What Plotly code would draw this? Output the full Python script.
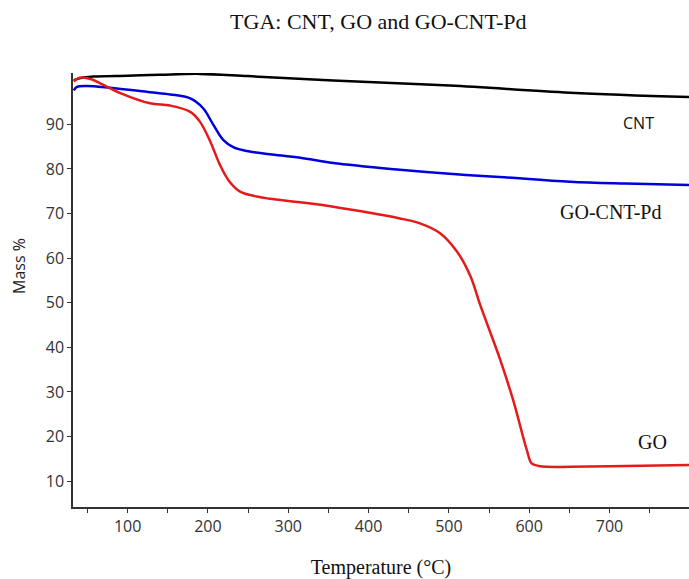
import plotly.graph_objects as go

# Temperature (°C) and mass (%)
cnt_temp = [33, 40, 57, 100, 140, 190, 250, 356, 501, 651, 799]
cnt_mass = [99.9, 100.3, 100.7, 100.9, 101.1, 101.3, 100.8, 99.8, 98.7, 97.1, 96.1]

gocntpd_temp = [33, 37, 49, 78, 128, 153, 178, 194, 207, 219, 232, 252, 277, 315, 356, 439, 501, 563, 651, 720, 799]
gocntpd_mass = [97.6, 98.4, 98.6, 98.2, 97.2, 96.7, 95.8, 93.6, 89.8, 86.5, 84.8, 83.9, 83.3, 82.5, 81.3, 79.8, 78.9, 78.2, 77.1, 76.7, 76.4]

go_temp = [33, 38, 43, 55, 66, 91, 128, 153, 178, 190, 203, 215, 227, 240, 261, 277, 315, 356, 439, 464, 489, 510, 527, 539, 564, 580, 597, 603, 612, 622, 651, 720, 799]
go_mass = [99.6, 100.3, 100.5, 100.1, 99.2, 97.0, 94.7, 94.2, 92.8, 90.6, 86.1, 80.9, 77.1, 74.9, 73.8, 73.3, 72.5, 71.5, 68.9, 67.8, 65.6, 61.5, 55.9, 49.5, 37.2, 28.2, 17.0, 14.0, 13.4, 13.2, 13.2, 13.4, 13.6]

x_tickvals = [50, 100, 150, 200, 250, 300, 350, 400, 450, 500, 550, 600, 650, 700, 750]
x_ticktext = ["", "100", "", "200", "", "300", "", "400", "", "500", "", "600", "", "700", ""]
y_tickvals = [10, 20, 30, 40, 50, 60, 70, 80, 90]

series_names = ["CNT", "GO-CNT-Pd", "GO"]
series_colors = ["#000000", "#0000dd", "#e51a1a"]

# label positions (data coords)
label_x = [736, 702, 754]
label_y = [90.3, 70.3, 18.7]
label_fonts = [dict(family="Open Sans", size=16, color="#111111"),
               dict(family="Liberation Serif", size=20, color="#111111"),
               dict(family="Liberation Serif", size=20, color="#111111")]

fig = go.Figure()
for name, xs, ys, col in zip(series_names,
                              [cnt_temp, gocntpd_temp, go_temp],
                              [cnt_mass, gocntpd_mass, go_mass],
                              series_colors):
    fig.add_trace(go.Scatter(x=xs, y=ys, mode="lines", name=name,
                             line=dict(color=col, width=2.5, shape="spline", smoothing=1.0)))

fig.update_layout(
    width=689, height=579,
    margin=dict(l=73, r=0, t=73, b=72),
    paper_bgcolor="white", plot_bgcolor="white",
    showlegend=False,
    title=dict(text="TGA: CNT, GO and GO-CNT-Pd", x=0.549, xanchor="center",
               y=1 - 21 / 579, yanchor="middle",
               font=dict(family="Liberation Serif", size=22, color="#111111")),
    xaxis=dict(range=[32, 799], tickvals=x_tickvals, ticktext=x_ticktext,
               showgrid=False, zeroline=False, showline=True, linecolor="#333333", linewidth=1.5,
               ticks="outside", ticklen=4, tickcolor="#333333",
               tickfont=dict(family="Open Sans", size=16, color="#333333"),
               title=dict(text="Temperature (°C)", standoff=24,
                          font=dict(family="Liberation Serif", size=20, color="#111111"))),
    yaxis=dict(range=[4.2, 101.5], tickvals=y_tickvals,
               showgrid=False, zeroline=False, showline=True, linecolor="#333333", linewidth=1.5,
               ticks="outside", ticklen=4, tickcolor="#333333",
               tickfont=dict(family="Open Sans", size=16, color="#333333")),
)

# y-axis title placed as in the reference (slightly above plot centre)
fig.add_annotation(xref="paper", yref="paper", x=-54 / 616, y=(507 - 266) / 434,
                   xanchor="center", yanchor="middle",
                   text="Mass %", textangle=-90, showarrow=False,
                   font=dict(family="Open Sans", size=16, color="#222222"))

for name, lx, ly, fnt in zip(series_names, label_x, label_y, label_fonts):
    fig.add_annotation(x=lx, y=ly, text=name, showarrow=False, font=fnt)

fig.write_html("out.html")
